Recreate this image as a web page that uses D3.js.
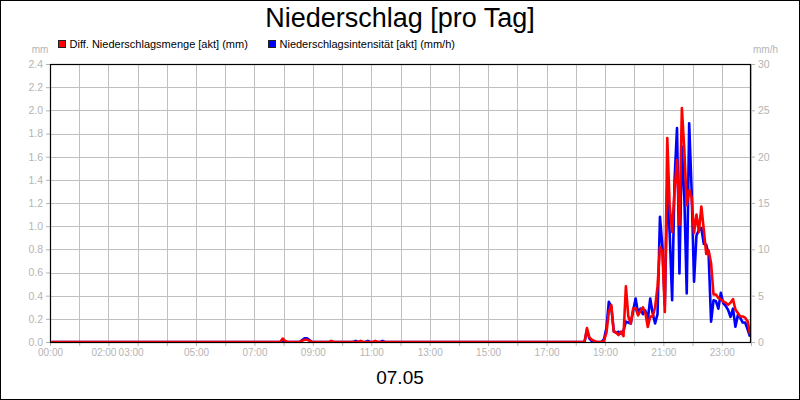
<!DOCTYPE html>
<html>
<head>
<meta charset="utf-8">
<script src="https://cdn.jsdelivr.net/npm/d3@7"></script>
<style>
    body { margin: 0; background: #fff; }
    svg { display: block; font-family: Arial, "Liberation Sans", sans-serif; }
</style>
</head>
<body>
<svg id="chart" width="800" height="400"></svg>
<script>
// Messzeitpunkte (alle Werte davor/dazwischen = 0)
var times = [
    "00:03",
    "07:48", "07:53", "07:58", "08:03", "08:08",
    "08:33", "08:38", "08:43", "08:48", "08:53", "08:58",
    "09:33", "09:38", "09:43",
    "10:23", "10:28", "10:33", "10:38", "10:43", "10:48", "10:53", "10:58", "11:03", "11:08", "11:13", "11:18", "11:23", "11:28",
    "18:03", "18:08", "18:13", "18:18", "18:23", "18:28", "18:33", "18:38", "18:43", "18:48", "18:53", "18:58",
    "19:03", "19:08", "19:13", "19:18", "19:23", "19:28", "19:33", "19:38", "19:43", "19:48", "19:53", "19:58",
    "20:03", "20:08", "20:13", "20:18", "20:23", "20:28", "20:33", "20:38", "20:43", "20:48", "20:53", "20:58",
    "21:03", "21:08", "21:13", "21:18", "21:23", "21:28", "21:33", "21:38", "21:43", "21:48", "21:53", "21:58",
    "22:03", "22:08", "22:13", "22:18", "22:23", "22:28", "22:33", "22:38", "22:43", "22:48", "22:53", "22:58",
    "23:03", "23:08", "23:13", "23:18", "23:23", "23:28", "23:33", "23:38", "23:43", "23:48", "23:53", "23:58"
];

// Diff. Niederschlagsmenge [akt] (mm)
var mengeMm = [
    0,
    0, 0, 0.03, 0.01, 0,
    0, 0.01, 0.02, 0.02, 0.01, 0,
    0, 0.01, 0,
    0, 0, 0, 0.01, 0, 0, 0, 0, 0, 0.01, 0, 0, 0, 0,
    0, 0, 0, 0, 0.12, 0.04, 0.02, 0.01, 0, 0, 0, 0.01,
    0.08, 0.26, 0.32, 0.09, 0.08, 0.06, 0.09, 0.05, 0.48, 0.22, 0.16, 0.29,
    0.29, 0.23, 0.27, 0.30, 0.25, 0.13, 0.22, 0.22, 0.30, 0.48, 0.82, 0.78,
    0.26, 1.76, 1.17, 0.95, 1.31, 1.57, 1.01, 2.02, 1.66, 1.18, 1.31, 1.25,
    0.94, 1.10, 0.95, 1.17, 0.97, 0.76, 0.79, 0.68, 0.41, 0.41, 0.38, 0.37,
    0.35, 0.34, 0.32, 0.34, 0.37, 0.28, 0.25, 0.22, 0.22, 0.21, 0.18, 0.07
];

// Niederschlagsintensität [akt] (mm/h)
var intensitaetMmh = [
    0,
    0, 0, 0.2, 0, 0,
    0, 0.2, 0.4, 0.4, 0.2, 0,
    0, 0, 0,
    0, 0.12, 0, 0, 0, 0, 0.12, 0, 0, 0, 0, 0, 0.12, 0,
    0, 0, 0, 0, 1.3, 0.4, 0.1, 0, 0, 0, 0, 0.3,
    1.5, 4.35, 3.8, 1.2, 1.0, 1.1, 0.9, 1.2, 2.2, 2.1, 2.0, 3.4,
    4.7, 3.1, 3.6, 3.0, 3.4, 2.4, 4.7, 3.1, 2.0, 3.0, 13.5, 10.3,
    4.0, 16.6, 11.7, 4.5, 17.5, 23.1, 7.4, 21.1, 15.7, 5.25, 23.6, 16.4,
    6.5, 11.5, 12.1, 12.3, 10.6, 10.5, 9.4, 2.2, 4.5, 4.4, 3.6, 5.3,
    4.2, 3.9, 3.45, 2.7, 3.6, 1.65, 2.9, 2.6, 2.1, 2.1, 1.37, 0.57
];

var leftTicks = [0, 0.2, 0.4, 0.6, 0.8, 1.0, 1.2, 1.4, 1.6, 1.8, 2.0, 2.2, 2.4];
var rightTicks = [0, 5, 10, 15, 20, 25, 30];
var hourTicks = d3.range(0, 25);
var hourLabels = ["00:00", "02:00", "03:00", "05:00", "07:00", "09:00", "11:00",
                  "13:00", "15:00", "17:00", "19:00", "21:00", "23:00"];

var seriesNames = ["Diff. Niederschlagsmenge [akt] (mm)", "Niederschlagsintensität [akt] (mm/h)"];
var seriesColors = ["#ff0000", "#0000ff"];

var margin = {left: 50, right: 49, top: 64, bottom: 58};
var svg = d3.select("#chart");
var W = 800, H = 400;
var plotW = W - margin.left - margin.right;
var plotH = H - margin.top - margin.bottom;

// the 02:00 / 03:00 labels sit crowded together, shifted left
var labelNudge = {"02:00": -5, "03:00": -7};

function toMinutes(t) {
    var p = t.split(":");
    return +p[0] * 60 + +p[1];
}

var x = d3.scaleLinear().domain([0, 24 * 60]).range([margin.left, margin.left + plotW]);
var yMm = d3.scaleLinear().domain([0, 2.4]).range([margin.top + plotH, margin.top]);
var yMmh = d3.scaleLinear().domain([0, 30]).range([margin.top + plotH, margin.top]);

var gray = "#b4b4b4";
var gridGray = "#c0c0c0";

// outer frame
svg.append("rect")
    .attr("x", 0.5).attr("y", 0.5)
    .attr("width", W - 1).attr("height", H - 1)
    .attr("fill", "#fff").attr("stroke", "#000");

// title
svg.append("text")
    .attr("x", W / 2).attr("y", 27)
    .attr("text-anchor", "middle")
    .attr("font-size", 27)
    .text("Niederschlag [pro Tag]");

// legend
var legend = svg.append("g").attr("font-size", 11);
var legendX = [58.5, 268.5];
seriesNames.forEach(function (name, i) {
    legend.append("rect")
        .attr("x", legendX[i]).attr("y", 40.5)
        .attr("width", 7).attr("height", 7)
        .attr("fill", seriesColors[i]).attr("stroke", "#222");
    legend.append("text")
        .attr("x", legendX[i] + 11).attr("y", 48)
        .text(name);
});

// gridlines
var grid = svg.append("g").attr("stroke", gridGray).attr("stroke-width", 1);
grid.selectAll("line.h").data(leftTicks).enter().append("line")
    .attr("class", "h")
    .attr("x1", margin.left).attr("x2", margin.left + plotW)
    .attr("y1", function (d) { return Math.round(yMm(d)) + 0.5; })
    .attr("y2", function (d) { return Math.round(yMm(d)) + 0.5; });
grid.selectAll("line.v").data(hourTicks).enter().append("line")
    .attr("class", "v")
    .attr("y1", margin.top).attr("y2", margin.top + plotH)
    .attr("x1", function (d) { return Math.round(x(d * 60)) + 0.5; })
    .attr("x2", function (d) { return Math.round(x(d * 60)) + 0.5; });

// axes
function styleAxis(g) {
    g.select(".domain").remove();
    g.selectAll(".tick line").attr("stroke", gray);
    g.selectAll(".tick text").attr("fill", gray).attr("font-size", 10.5)
        .attr("font-family", "Arial, 'Liberation Sans', sans-serif");
}

svg.append("g")
    .attr("transform", "translate(" + margin.left + ",0)")
    .call(d3.axisLeft(yMm).tickValues(leftTicks).tickFormat(d3.format(".1f")).tickSize(4).tickPadding(3))
    .call(styleAxis);

svg.append("g")
    .attr("transform", "translate(" + (margin.left + plotW) + ",0)")
    .call(d3.axisRight(yMmh).tickValues(rightTicks).tickFormat(d3.format("d")).tickSize(4).tickPadding(3))
    .call(styleAxis);

var xAxis = svg.append("g")
    .attr("transform", "translate(0," + (margin.top + plotH) + ")")
    .call(d3.axisBottom(x).tickValues(hourTicks.map(function (h) { return h * 60; }))
        .tickSize(4).tickPadding(3)
        .tickFormat(function (m) {
            var lbl = d3.format("02d")(m / 60) + ":00";
            return hourLabels.indexOf(lbl) >= 0 ? lbl : "";
        }))
    .call(styleAxis);

xAxis.selectAll(".tick text")
    .attr("font-size", 10)
    .attr("dx", function () { return labelNudge[this.textContent] || 0; });

// units
svg.append("text").attr("x", 40).attr("y", 53).attr("text-anchor", "middle")
    .attr("font-size", 10).attr("fill", gray).text("mm");
svg.append("text").attr("x", 753).attr("y", 53)
    .attr("font-size", 10).attr("fill", gray).text("mm/h");

// date
svg.append("text")
    .attr("x", W / 2).attr("y", 384)
    .attr("text-anchor", "middle")
    .attr("font-size", 19)
    .text("07.05");

// lines
svg.append("clipPath").attr("id", "plotClip")
    .append("rect")
    .attr("x", margin.left).attr("y", margin.top)
    .attr("width", plotW).attr("height", plotH);

var lines = svg.append("g").attr("clip-path", "url(#plotClip)");

var lineMmh = d3.line()
    .x(function (d, i) { return x(toMinutes(times[i])); })
    .y(function (d) { return yMmh(d); });
var lineMm = d3.line()
    .x(function (d, i) { return x(toMinutes(times[i])); })
    .y(function (d) { return yMm(d); });

lines.append("path")
    .datum(intensitaetMmh)
    .attr("d", lineMmh)
    .attr("fill", "none").attr("stroke", seriesColors[1])
    .attr("stroke-width", 2.6).attr("stroke-linejoin", "round");

lines.append("path")
    .datum(mengeMm)
    .attr("d", lineMm)
    .attr("fill", "none").attr("stroke", seriesColors[0])
    .attr("stroke-width", 2.6).attr("stroke-linejoin", "round");

// plot frame
svg.append("rect")
    .attr("x", margin.left + 0.5).attr("y", margin.top + 0.5)
    .attr("width", plotW - 1).attr("height", plotH)
    .attr("fill", "none").attr("stroke", "#000").attr("stroke-width", 1.2);
</script>
</body>
</html>
